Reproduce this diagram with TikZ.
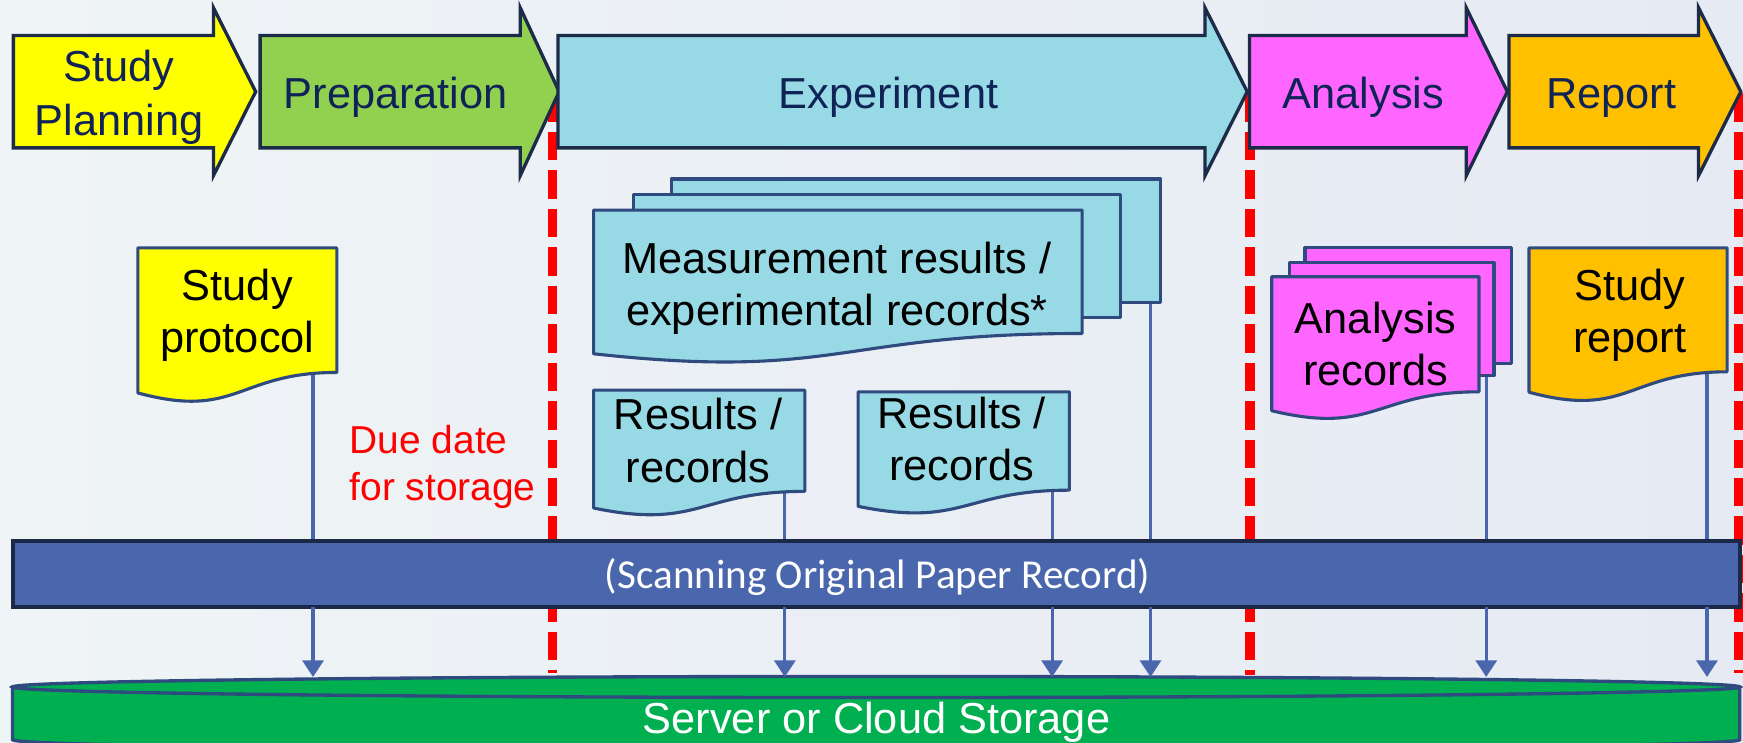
\documentclass[tikz,border=0pt]{standalone}
\usepackage{fontspec}
\setmainfont{Liberation Sans}
\newfontfamily\calfont{Carlito}
\usetikzlibrary{arrows.meta}
\definecolor{bgL}{HTML}{EFF4F6}
\definecolor{bgR}{HTML}{E6EAF3}
\definecolor{arrowedge}{HTML}{1C2B48}
\definecolor{navytext}{HTML}{102356}
\definecolor{docedge}{HTML}{2F4A7E}
\definecolor{planyellow}{HTML}{FFFF00}
\definecolor{prepgreen}{HTML}{92D050}
\definecolor{expblue}{HTML}{97D9E4}
\definecolor{anamag}{HTML}{FF66FF}
\definecolor{reporange}{HTML}{FFC000}
\definecolor{barblue}{HTML}{4A67AD}
\definecolor{baredge}{HTML}{1C2847}
\definecolor{storegreen}{HTML}{00AF50}
\definecolor{connblue}{HTML}{4A67AD}
\definecolor{duered}{HTML}{FF0000}
\tikzset{
  phase/.style={draw=arrowedge, line width=3pt, line join=miter},
  phasetext/.style={text=navytext, font=\fontsize{39}{48}\selectfont, anchor=base, inner sep=0pt},
  doctext/.style={text=black, font=\fontsize{39}{47}\selectfont, anchor=base, inner sep=0pt},
  docline/.style={draw=docedge, line width=2.8pt, line join=round},
  deadline/.style={draw=duered, line width=8.5pt, dash pattern=on 25.6pt off 9pt},
  conn/.style={draw=connblue, line width=2.8pt},
  connarrow/.style={conn, -{Triangle[width=19pt,length=15pt]}},
  barbox/.style={fill=barblue, draw=baredge, line width=3.5pt},
  bartextstyle/.style={text=white, font=\calfont\fontsize{37}{44}\selectfont, anchor=base, inner sep=0pt},
  storebody/.style={fill=storegreen, draw=docedge, line width=3pt},
  storetextstyle/.style={text=white, font=\fontsize{39}{47}\selectfont, anchor=base, inner sep=0pt},
  duetext/.style={text=duered, font=\fontsize{35}{42}\selectfont, anchor=base west, inner sep=0pt},
}
\newcommand\phasearrow[4]{%
  \filldraw[phase, fill=#4] (#1,32) -- (#2,32) -- (#2,7) -- (#3,82.5) -- (#2,158) -- (#2,133) -- (#1,133) -- cycle;}
\newcommand\docshape[5]{%
  \pgfmathsetmacro\dR{#1+#3}\pgfmathsetmacro\dM{#1+0.5*#3}%
  \pgfmathsetmacro\dA{#2+0.802*#4}\pgfmathsetmacro\dB{#2+1.1075*#4}\pgfmathsetmacro\dC{#2+0.934*#4}%
  \filldraw[docline, fill=#5] (#1,#2) -- (\dR,#2) -- (\dR,\dA) .. controls (\dM,\dA) and (\dM,\dB) .. (#1,\dC) -- cycle;}
\begin{document}
\begin{tikzpicture}[x=1pt,y=-1pt]
\useasboundingbox (0,0) rectangle (1568,668);
\fill[left color=bgL, right color=bgR] (0,0) rectangle (1568,668);

% deadlines
\coordinate (r1t) at (497,84);   \coordinate (r1b) at (497,605);
\coordinate (r2t) at (1124.5,84); \coordinate (r2b) at (1124.5,607);
\coordinate (r3t) at (1564.5,84); \coordinate (r3b) at (1564.5,605);
\draw[deadline] (r1t) -- (r1b);
\draw[deadline] (r2t) -- (r2b);
\draw[deadline] (r3t) -- (r3b);

% phase arrows
\phasearrow{12}{192}{230}{planyellow}
\phasearrow{234}{468}{503}{prepgreen}
\phasearrow{502}{1084}{1122}{expblue}
\phasearrow{1124}{1319}{1356}{anamag}
\phasearrow{1357.5}{1528}{1566}{reporange}
\node[phasetext] (tplan) at (107,73.5) {\begin{tabular}[t]{@{}c@{}}Study\\Planning\end{tabular}};
\node[phasetext] (tprep) at (356,97.5) {Preparation};
\node[phasetext] (texp) at (799.4,97.5) {Experiment};
\node[phasetext] (tana) at (1226.4,97.5) {Analysis};
\node[phasetext] (trep) at (1449.4,97.5) {Report};

% connector anchors
\coordinate (bartop) at (0,487);
\coordinate (barbot) at (0,546);
\coordinate (storetop) at (788,609);
\coordinate (c1) at (281.6,335);
\coordinate (c2) at (706,442);
\coordinate (c3) at (946.5,441);
\coordinate (c4) at (1035,272);
\coordinate (c5) at (1337,338);
\coordinate (c6) at (1535.6,334.5);
\foreach \c in {c1,c2,c3,c4,c5,c6} {\draw[conn] (\c) -- (\c |- bartop);}

% documents
\docshape{124}{223}{179}{139.7}{planyellow}
\node[doctext] (tproto) at (213.5,270) {\begin{tabular}[t]{@{}c@{}}Study\\protocol\end{tabular}};

\filldraw[docline, fill=expblue] (604,161) rectangle (1044,272);
\filldraw[docline, fill=expblue] (570,175) rectangle (1008,286);
\docshape{534}{189}{439.5}{138.4}{expblue}
\node[doctext] (tmeas) at (753,245.9) {\begin{tabular}[t]{@{}c@{}}Measurement results /\\experimental records*\end{tabular}};

\docshape{534}{351}{190}{113.5}{expblue}
\node[doctext] (tres1) at (628,386.8) {\begin{tabular}[t]{@{}c@{}}Results /\\records\end{tabular}};
\docshape{772}{352.5}{190}{110.3}{expblue}
\node[doctext] (tres2) at (865,385.3) {\begin{tabular}[t]{@{}c@{}}Results /\\records\end{tabular}};

\filldraw[docline, fill=anamag] (1174,223) rectangle (1360,327);
\filldraw[docline, fill=anamag] (1160,236.5) rectangle (1344,338);
\docshape{1144}{249}{186.5}{129}{anamag}
\node[doctext] (tanarec) at (1237.5,299.9) {\begin{tabular}[t]{@{}c@{}}Analysis\\records\end{tabular}};

\docshape{1375.5}{223}{178.2}{139}{reporange}
\node[doctext] (trepdoc) at (1466,269.9) {\begin{tabular}[t]{@{}c@{}}Study\\report\end{tabular}};

% due date
\node[duetext] (due) at (314.3,407.8) {\begin{tabular}[t]{@{}l@{}}Due date\\for storage\end{tabular}};

% scanning bar
\filldraw[barbox] (11.5,487) rectangle (1565,546);
\node[bartextstyle] (bartext) at (789.5,529) {(Scanning Original Paper Record)};

% storage
\filldraw[storebody] (11.3,618) -- (11.3,665.5) arc[start angle=180, end angle=360, x radius=776.85pt, y radius=9.5pt] -- (1565,618) -- cycle;
\filldraw[storebody] (788.15,618) ellipse[x radius=776.85pt, y radius=9.5pt];
\node[storetextstyle] (storetext) at (788.5,660) {Server or Cloud Storage};

\foreach \c in {c1,c2,c3,c4,c5,c6} {\draw[connarrow] (\c |- barbot) -- (\c |- storetop);}
\end{tikzpicture}
\end{document}
